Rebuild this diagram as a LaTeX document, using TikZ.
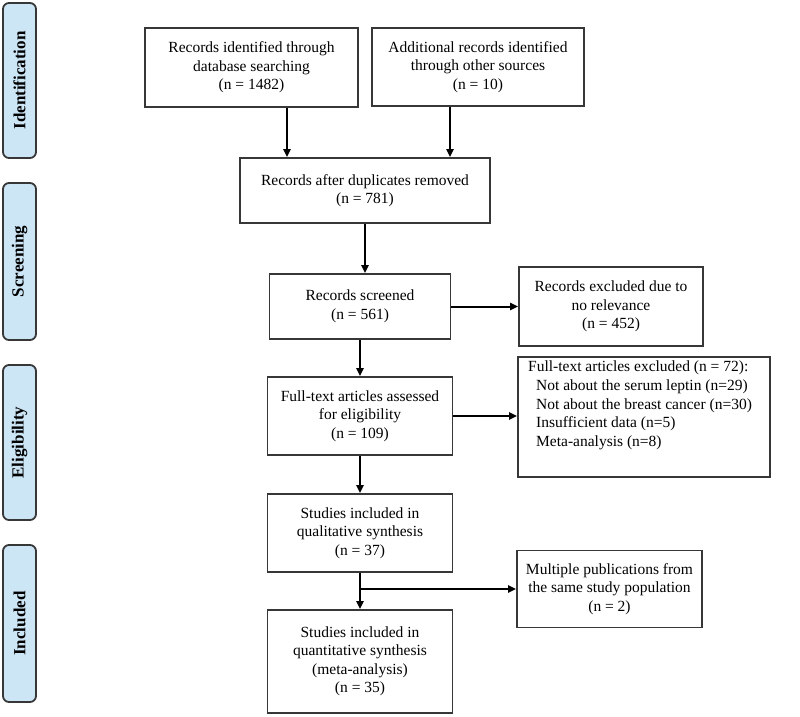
\documentclass[tikz,border=0pt]{standalone}
\usepackage{fontspec}
\setmainfont{Liberation Serif}
\usetikzlibrary{arrows.meta}
\definecolor{sidefill}{RGB}{205,230,246}
\definecolor{edge}{RGB}{55,55,55}
\begin{document}
\begin{tikzpicture}[x=1pt,y=-1pt,
  box/.style={draw=edge, line width=1.8pt, align=center, inner sep=0pt,
    font=\fontsize{15.5}{18.5}\selectfont},
  side/.style={draw=edge, fill=sidefill, rounded corners=6pt, line width=1.8pt,
    rotate=90, minimum height=33pt, inner sep=0pt,
    font=\fontsize{17}{20}\selectfont\bfseries},
  arr/.style={draw=black, line width=2pt, -{Triangle[length=8pt,width=7pt]}}]
\useasboundingbox (0,0) rectangle (800,717);

% phase labels
\node[side, minimum width=155pt] (sid) at (19.5,80.5) {Identification};
\node[side, minimum width=157pt] (sscr) at (19.5,261.5) {Screening};
\node[side, minimum width=155pt] (seli) at (19.5,442.5) {Eligibility};
\node[side, minimum width=157pt] (sinc) at (19.5,623.5) {Included};

% boxes
\node[box, minimum width=213pt, minimum height=79pt] (id1) at (251.5,67.5)
  {Records identified through\\database searching\\(n = 1482)};
\node[box, minimum width=212pt, minimum height=78pt] (id2) at (478,67)
  {Additional records identified\\through other sources\\(n = 10)};
\node[box, minimum width=250pt, minimum height=65pt] (dup) at (365,190.5)
  {Records after duplicates removed\\(n = 781)};
\node[box, minimum width=181pt, minimum height=65pt] (scr) at (360,306.5)
  {Records screened\\(n = 561)};
\node[box, minimum width=184pt, minimum height=79pt] (exc1) at (611,306.5)
  {Records excluded due to\\no relevance\\(n = 452)};
\node[box, minimum width=185pt, minimum height=78pt] (ft) at (360,416)
  {Full-text articles assessed\\for eligibility\\(n = 109)};
\node[box, minimum width=252pt, minimum height=120pt] (exc2) at (644,417) {};
\node[anchor=north west, align=left, inner sep=0pt,
  font=\fontsize{15.5}{18.6}\selectfont] (exc2t) at (528,361)
  {Full-text articles excluded (n = 72):\\
   \hspace*{8pt}Not about the serum leptin (n=29)\\
   \hspace*{8pt}Not about the breast cancer (n=30)\\
   \hspace*{8pt}Insufficient data (n=5)\\
   \hspace*{8pt}Meta-analysis (n=8)};
\node[box, minimum width=185pt, minimum height=78pt] (qual) at (360,533)
  {Studies included in\\qualitative synthesis\\(n = 37)};
\node[box, minimum width=185pt, minimum height=77pt] (mult) at (609.5,589)
  {Multiple publications from\\the same study population\\(n = 2)};
\node[box, minimum width=185pt, minimum height=103pt] (quant) at (360,661.5)
  {Studies included in\\quantitative synthesis\\(meta-analysis)\\(n = 35)};

% connectors
\coordinate (a1) at (287,0);
\coordinate (a2) at (450,0);
\draw[arr] (id1.south -| a1) -- (dup.north -| a1);
\draw[arr] (id2.south -| a2) -- (dup.north -| a2);
\draw[arr] (dup.south) -- (dup.south |- scr.north);
\draw[arr] (scr.east) -- (scr.east -| exc1.west);
\draw[arr] (scr.south) -- (ft.north);
\draw[arr] (ft.east) -- (ft.east -| exc2.west);
\draw[arr] (ft.south) -- (qual.north);
\draw[arr] (qual.south) -- (quant.north);
\draw[arr] (qual.south |- mult.west) -- (mult.west);
\end{tikzpicture}
\end{document}
